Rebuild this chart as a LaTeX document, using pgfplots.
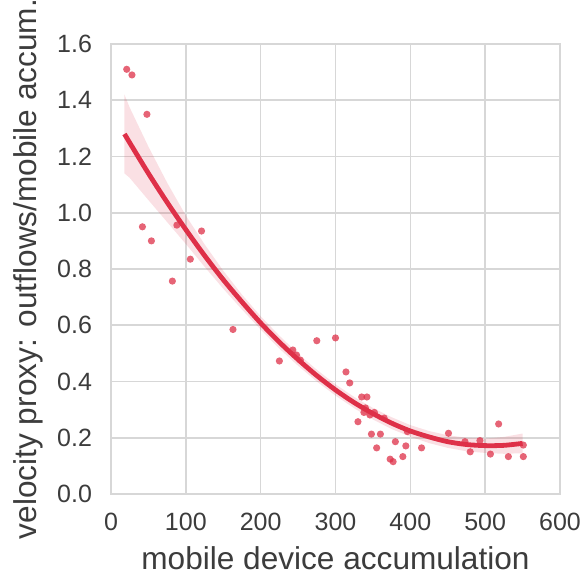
\documentclass[border=0pt]{standalone}
\usepackage{pgfplots}
\pgfplotsset{compat=1.18}
\usepackage{fontspec}
\setmainfont{Liberation Sans}
\definecolor{sred}{RGB}{222,48,72}
\definecolor{gridc}{RGB}{215,215,215}
\definecolor{txt}{RGB}{60,60,60}
\begin{document}
\begin{tikzpicture}
\path[use as bounding box] (-55.5pt,-42.5pt) rectangle (238.5pt,247pt);
\begin{axis}[
  at={(0,0)}, anchor=origin,
  scale only axis, width=224.5pt, height=225pt,
  xmin=0, xmax=600, ymin=0, ymax=1.6,
  xtick={0,100,...,600}, ytick={0,0.2,...,1.6},
  yticklabel style={/pgf/number format/fixed, /pgf/number format/fixed zerofill, /pgf/number format/precision=1, xshift=-6pt},
  /pgf/number format/assume math mode=true,
  grid=major, major grid style={gridc, line width=0.8pt},
  axis line style={gridc, line width=0.8pt},
  tick style={draw=none},
  ticklabel style={font=\fontsize{12.5}{14}\selectfont, text=txt},
  xticklabel style={yshift=-6pt},
  xlabel={mobile device accumulation},
  ylabel={velocity proxy: outflows/mobile accum.},
  label style={font=\fontsize{15.8}{17}\selectfont, text=txt},
  xlabel style={yshift=-1pt},
  ylabel style={yshift=0pt},
]
% confidence band
\addplot[draw=none, fill=sred, fill opacity=0.15, forget plot] coordinates {
(18,1.42)(25,1.374)(50,1.235)(75,1.107)(100,0.99)(125,0.888)(150,0.794)(175,0.709)(200,0.632)(225,0.563)(250,0.499)(275,0.442)(300,0.39)(325,0.345)(350,0.306)(375,0.273)(400,0.245)(425,0.224)(450,0.209)(475,0.2)(500,0.197)(525,0.203)(550,0.215)
(550,0.145)(525,0.143)(500,0.146)(475,0.152)(450,0.164)(425,0.181)(400,0.204)(375,0.231)(350,0.265)(325,0.305)(300,0.35)(275,0.40)(250,0.456)(225,0.517)(200,0.585)(175,0.656)(150,0.730)(125,0.808)(100,0.889)(75,0.967)(50,1.045)(25,1.124)(18,1.14)
} -- cycle;
% scatter points
\addplot[sred, only marks, mark=*, mark size=1.8pt, mark options={draw opacity=0, fill=sred, fill opacity=0.75}] coordinates {
(21,1.51)(28,1.49)(48,1.35)(42,0.95)(54,0.90)(82,0.757)(88,0.956)(121,0.935)(106,0.835)
(163,0.585)(225,0.473)(243,0.512)(248,0.494)(253,0.476)(275,0.545)(300,0.555)
(314,0.434)(319,0.395)(335,0.345)(342,0.345)(340,0.306)(346,0.281)(330,0.257)
(348,0.213)(360,0.213)(355,0.164)(380,0.186)(373,0.124)(377,0.115)(390,0.133)
(394,0.171)(396,0.222)(415,0.164)(451,0.216)(473,0.186)(480,0.15)(493,0.19)
(507,0.142)(518,0.249)(531,0.133)(551,0.133)(551,0.174)(338,0.29)(352,0.29)(365,0.27)
};
% regression line
\addplot[sred, line width=2.4pt, smooth] coordinates {
(18,1.28)(25,1.249)(50,1.140)(75,1.037)(100,0.940)(125,0.848)(150,0.762)(175,0.683)(200,0.608)(225,0.540)(250,0.478)(275,0.421)(300,0.370)(325,0.325)(350,0.286)(375,0.252)(400,0.224)(425,0.203)(450,0.186)(475,0.176)(500,0.172)(525,0.173)(550,0.180)
};
\end{axis}
\end{tikzpicture}
\end{document}
